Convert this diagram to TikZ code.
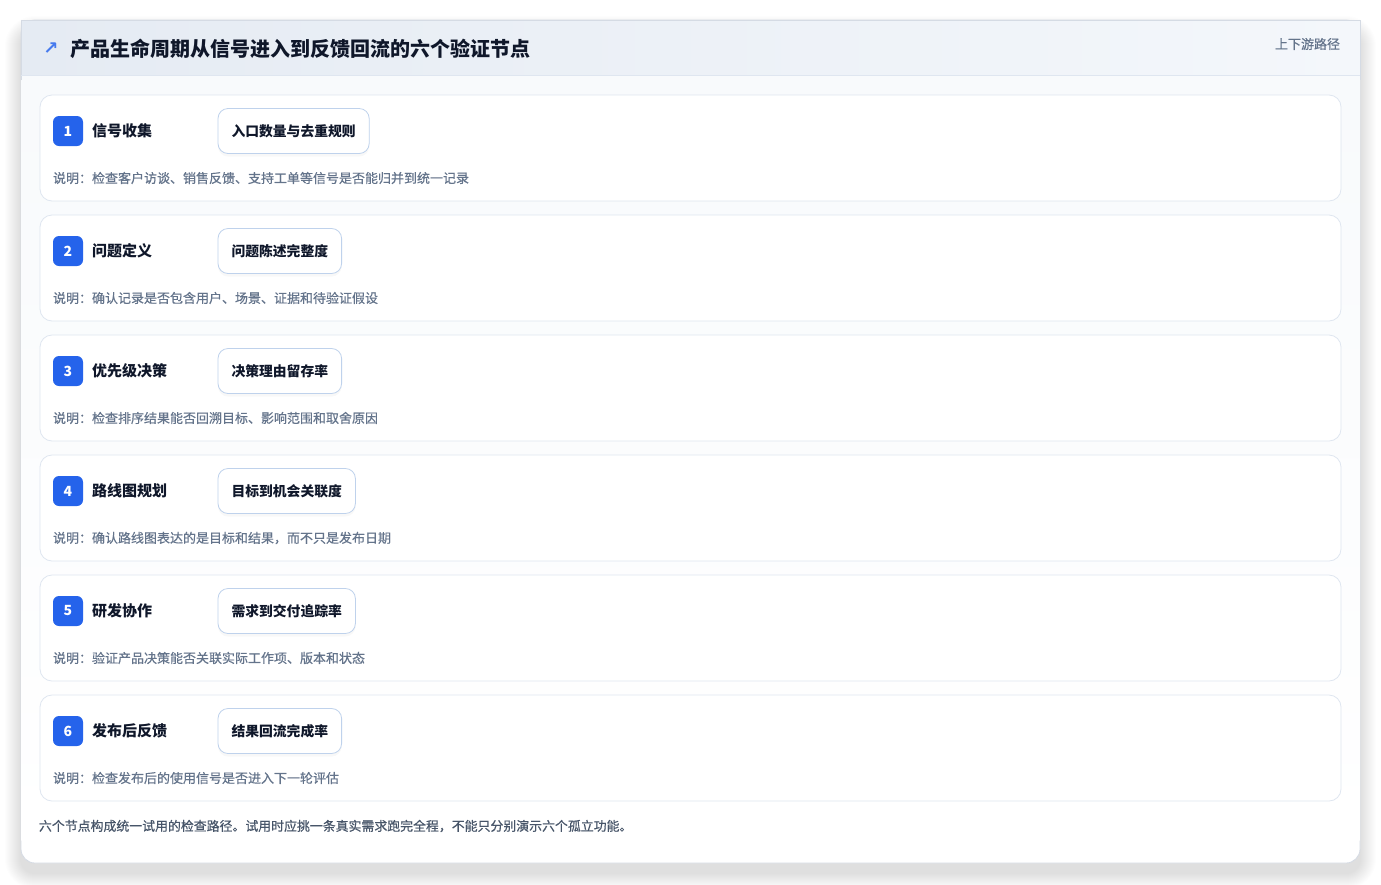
\documentclass[tikz,border=0pt]{standalone}
\usepackage{fontspec}
\setmainfont{Noto Sans CJK SC}
\newfontfamily\medfont{Noto Sans CJK SC}[FakeBold=0.5]
\newfontfamily\symfont{DejaVu Sans}
\usetikzlibrary{positioning,shadows}
\definecolor{cardline}{HTML}{D5DBE4}
\definecolor{headleft}{HTML}{E5EBF3}
\definecolor{headright}{HTML}{F4F7FB}
\definecolor{bodybg}{HTML}{F8FAFC}
\definecolor{rowline}{HTML}{DFE6F0}
\definecolor{badgeblue}{HTML}{2563EB}
\definecolor{inkdark}{HTML}{0F172A}
\definecolor{inkgray}{HTML}{64748B}
\definecolor{inkfoot}{HTML}{475569}
\definecolor{metricline}{HTML}{BFD2EC}
\newcommand{\px}[1]{\fontsize{#1}{#1}\selectfont}
\tikzset{
  x=1pt, y=-1pt,
  every node/.style={inner sep=0pt, outer sep=0pt},
  rowcard/.style={draw=rowline, fill=white, line width=0.8pt, rounded corners=12pt},
  badge/.style={fill=badgeblue, rounded corners=6pt, minimum size=30pt, text=white, font=\px{14}\bfseries},
  steptitle/.style={anchor=west, text=inkdark, font=\px{15}\bfseries},
  metric/.style={anchor=west, draw=metricline, fill=white, line width=0.8pt, rounded corners=10pt,
    minimum height=45pt, inner xsep=13.5pt, text=inkdark, font=\px{13.8}\bfseries,
    drop shadow={shadow xshift=0pt, shadow yshift=-3pt, opacity=0.05}},
  note/.style={anchor=west, text=inkgray, font=\medfont\px{13}},
}
% #1 number, #2 top edge, #3 title, #4 metric, #5 note
\newcommand{\checkrow}[5]{
  \draw[rowcard] (40,#2) rectangle (1341,#2+106);
  \node[badge] (badge#1) at (68,#2+36) {#1};
  \node[steptitle] (title#1) at (92,#2+36) {#3};
  \node[metric] (metric#1) at (218,#2+36) {#4};
  \node[note] (note#1) at (53,#2+83) {#5};
}

\begin{document}
\begin{tikzpicture}
   \useasboundingbox[fill=white] (0,0) rectangle (1381,884);
   % soft card shadow
   \foreach \s in {1,...,16}
     \fill[black, opacity=0.0065, rounded corners=14pt+\s pt] (21-\s,32-\s) rectangle (1360+\s,873+\s);
   \draw[fill=white, draw=cardline, line width=0.8pt, rounded corners=14pt] (21,20) rectangle (1360,863);
   \fill[top color=bodybg, bottom color=white] (21.4,75) rectangle (1359.6,840);
   \fill[left color=headleft, right color=headright] (21,20) rectangle (1360,75);
   \draw[cardline, line width=0.8pt] (21,80) -- (21,20) -- (1360,20) -- (1360,80);
   \draw[rowline, line width=0.8pt] (21.4,75) -- (1359.6,75);
   \node[text=badgeblue!85, font=\symfont\bfseries\px{18}] (icon) at (51,49) {↗};
   \node[anchor=west, text=inkdark, font=\px{20}\bfseries] (heading) at (70,49) {产品生命周期从信号进入到反馈回流的六个验证节点};
   \node[anchor=east, text=inkgray, font=\medfont\px{13}] (tag) at (1340,44) {上下游路径};
   \checkrow{1}{95}{信号收集}{入口数量与去重规则}{说明：检查客户访谈、销售反馈、支持工单等信号是否能归并到统一记录}
   \checkrow{2}{215}{问题定义}{问题陈述完整度}{说明：确认记录是否包含用户、场景、证据和待验证假设}
   \checkrow{3}{335}{优先级决策}{决策理由留存率}{说明：检查排序结果能否回溯目标、影响范围和取舍原因}
   \checkrow{4}{455}{路线图规划}{目标到机会关联度}{说明：确认路线图表达的是目标和结果，而不只是发布日期}
   \checkrow{5}{575}{研发协作}{需求到交付追踪率}{说明：验证产品决策能否关联实际工作项、版本和状态}
   \checkrow{6}{695}{发布后反馈}{结果回流完成率}{说明：检查发布后的使用信号是否进入下一轮评估}
   \node[anchor=west, text=inkfoot, font=\medfont\px{12.9}] (footnote) at (39,826) {六个节点构成统一试用的检查路径。试用时应挑一条真实需求跑完全程，不能只分别演示六个孤立功能。};
\end{tikzpicture}
\end{document}
